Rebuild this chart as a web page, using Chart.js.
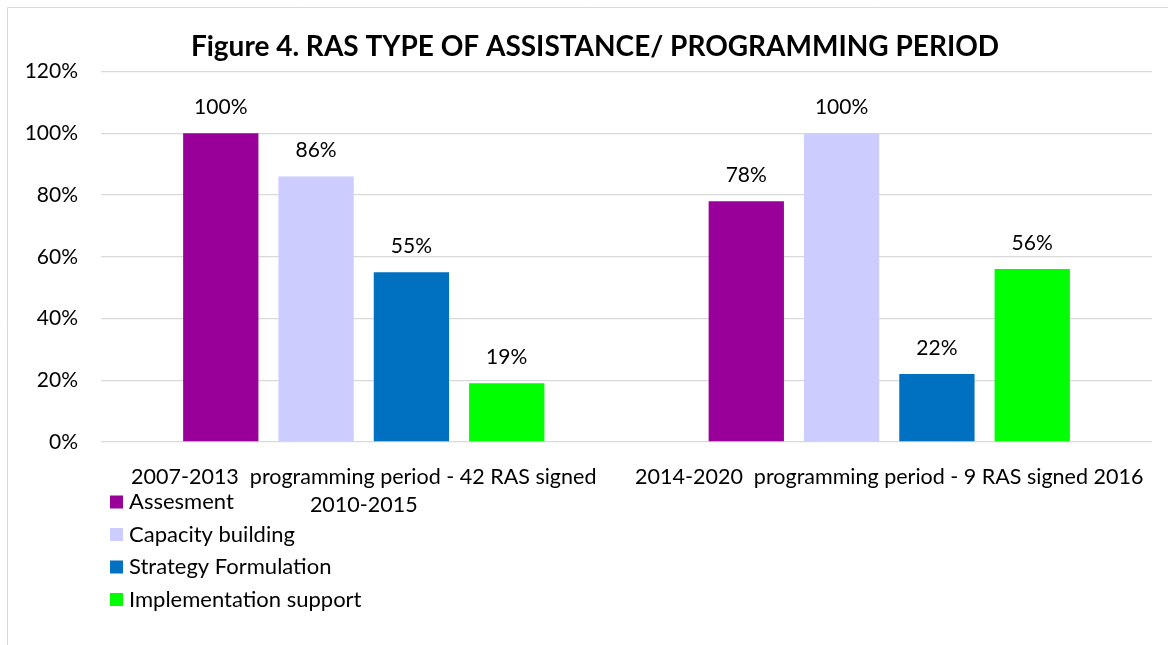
<!DOCTYPE html>
<html>
<head>
<meta charset="utf-8">
<script src="https://cdn.jsdelivr.net/npm/chart.js@4.4.1/dist/chart.umd.min.js"></script>
<style>
  html, body { margin: 0; padding: 0; background: #fff; }
  #wrap { width: 1168px; height: 645px; position: relative; }
</style>
</head>
<body>
<div id="wrap"><canvas id="chart" width="1168" height="645"></canvas></div>
<script>
// data
var categories = [
  ["2007-2013  programming period - 42 RAS signed", "2010-2015"],
  "2014-2020  programming period - 9 RAS signed 2016"
];
var seriesNames = ["Assesment", "Capacity building", "Strategy Formulation", "Implementation support"];
var assesment      = [100, 78];
var capacity       = [86, 100];
var strategy       = [55, 22];
var implementation = [19, 56];
var yMax = 120, yStep = 20;

var colors = ["#990099", "#ccccff", "#0070c0", "#00ff00"];
var FONT = "Lato, 'Open Sans', sans-serif";
var titleText = "Figure 4. RAS TYPE OF ASSISTANCE/ PROGRAMMING PERIOD";

// frame, title, value labels and legend
var extras = {
  id: "extras",
  beforeDraw: function(chart) {
    var c = chart.ctx;
    c.save();
    c.strokeStyle = "#d9d9d9";
    c.lineWidth = 1;
    c.beginPath();
    c.moveTo(7.5, 645); c.lineTo(7.5, 7.5); c.lineTo(1168, 7.5);
    c.stroke();
    c.restore();
  },
  afterDatasetsDraw: function(chart) {
    var c = chart.ctx;
    c.save();
    c.fillStyle = "#000";
    c.font = "21px " + FONT;
    c.textAlign = "center";
    c.textBaseline = "middle";
    chart.data.datasets.forEach(function(ds, i) {
      chart.getDatasetMeta(i).data.forEach(function(bar, j) {
        c.fillText(ds.data[j] + "%", bar.x, bar.y - 26);
      });
    });
    c.restore();
  },
  afterDraw: function(chart) {
    var c = chart.ctx;
    c.save();
    c.fillStyle = "#000";
    c.font = "bold 28px " + FONT;
    c.textAlign = "center";
    c.textBaseline = "middle";
    c.fillText(titleText, 595, 47);

    c.font = "22px " + FONT;
    c.textAlign = "left";
    chart.data.datasets.forEach(function(ds, i) {
      var y = 502 + i * 32.5;
      c.fillStyle = ds.backgroundColor;
      c.fillRect(110, y - 6.5, 13, 13);
      c.fillStyle = "#000";
      c.fillText(ds.label, 129, y);
    });
    c.restore();
  }
};

var series = [assesment, capacity, strategy, implementation];

new Chart(document.getElementById("chart"), {
  type: "bar",
  data: {
    labels: categories,
    datasets: series.map(function(d, i) {
      return {
        label: seriesNames[i],
        data: d,
        backgroundColor: colors[i],
        categoryPercentage: 0.7255,
        barPercentage: 0.79
      };
    })
  },
  options: {
    responsive: false,
    animation: false,
    layout: { padding: { left: 0, right: 16, top: 71.5, bottom: 0 } },
    plugins: {
      legend: { display: false },
      title: { display: false },
      tooltip: { enabled: false }
    },
    scales: {
      x: {
        grid: { display: false },
        border: { display: false },
        ticks: {
          color: "#000",
          font: { family: FONT, size: 21.5, lineHeight: 1.3 },
          padding: 13,
          maxRotation: 0,
          autoSkip: false
        },
        afterFit: function(scale) { scale.height = 203; }
      },
      y: {
        min: 0,
        max: yMax,
        grid: { color: "#d9d9d9", lineWidth: 1.3, drawTicks: false },
        border: { display: false },
        ticks: {
          stepSize: yStep,
          color: "#000",
          padding: 23,
          font: { family: FONT, size: 21 },
          callback: function(v) { return v + "%"; }
        },
        afterFit: function(scale) { scale.width = 101; }
      }
    }
  },
  plugins: [extras]
});
</script>
</body>
</html>
